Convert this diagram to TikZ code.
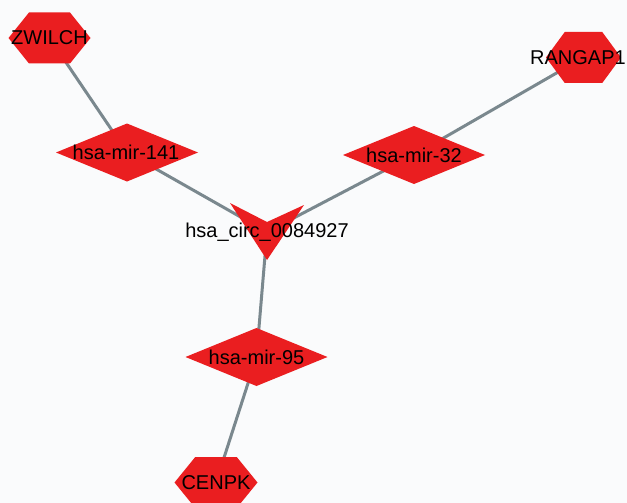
\documentclass[tikz,border=0pt]{standalone}
\usepackage{fontspec}
\setmainfont{Liberation Sans}
\definecolor{nodered}{RGB}{234,30,32}
\definecolor{edgegray}{RGB}{122,136,142}
\definecolor{canvas}{RGB}{250,251,252}
\tikzset{
  edge/.style={draw=edgegray, line width=3pt},
  shapefill/.style={fill=nodered},
  label/.style={font=\fontsize{20}{24}\selectfont, text=black, inner sep=0pt},
}
% hexagon (given half-width) and diamond outlines centred on a named coordinate
\newcommand{\hexshape}[2]{%
  \fill[shapefill, shift={(#1)}] (-#2,0) -- (-#2/2,-25.5) -- (#2/2,-25.5)
    -- (#2,0) -- (#2/2,25.5) -- (-#2/2,25.5) -- cycle;}
\newcommand{\diashape}[1]{%
  \fill[shapefill, shift={(#1)}] (-71,0) -- (0,-29) -- (71,0) -- (0,29) -- cycle;}
\begin{document}
\begin{tikzpicture}[x=1pt, y=-1pt]
  \fill[canvas] (0,0) rectangle (627,503);
  \useasboundingbox (0,0) rectangle (627,503);
  \clip (0,0) rectangle (627,503);

  % node centres
  \coordinate (zwilch) at (49.5,38);
  \coordinate (rangap) at (583.5,57.5);
  \coordinate (cenpk)  at (216,482.5);
  \coordinate (mir141) at (127,152.5);
  \coordinate (mir32)  at (414,155);
  \coordinate (mir95)  at (256.5,357);
  \coordinate (circ)   at (267,232);

  % interactions
  \draw[edge] (zwilch) -- (mir141);
  \draw[edge] (mir141) -- (circ);
  \draw[edge] (rangap) -- (mir32);
  \draw[edge] (mir32) -- (circ);
  \draw[edge] (circ) -- (mir95);
  \draw[edge] (mir95) -- (cenpk);

  % gene nodes
  \hexshape{zwilch}{41}
  \hexshape{rangap}{37.5}
  \hexshape{cenpk}{41.5}
  % miRNA nodes
  \diashape{mir141}
  \diashape{mir32}
  \diashape{mir95}
  % circRNA node (chevron)
  \fill[shapefill, shift={(circ)}] (-37,-29) -- (0,-10) -- (37,-27) -- (0,28) -- cycle;

  % labels
  \node[label] (zwilchL) at (zwilch) {ZWILCH};
  \node[label] (rangapL) at ([xshift=-5.5pt]rangap) {RANGAP1};
  \node[label] (cenpkL)  at (cenpk) {CENPK};
  \node[label] (mir141L) at ([xshift=-1pt]mir141) {hsa-mir-141};
  \node[label] (mir32L)  at (mir32) {hsa-mir-32};
  \node[label] (mir95L)  at (mir95) {hsa-mir-95};
  \node[label] (circL)   at (circ) {hsa\_circ\_0084927};
\end{tikzpicture}
\end{document}
